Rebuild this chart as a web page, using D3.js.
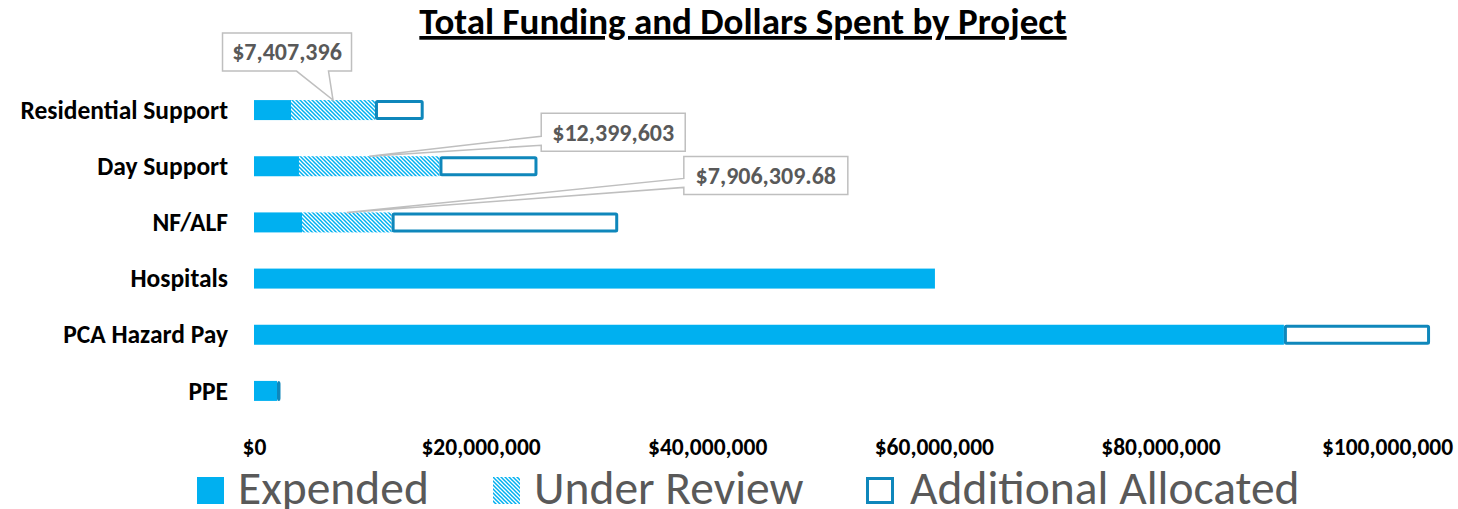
<!DOCTYPE html>
<html>
<head>
<meta charset="utf-8">
<script src="https://cdn.jsdelivr.net/npm/d3@7"></script>
<style>
  body { margin: 0; background: #fff; }
  svg { display: block; font-family: Carlito, Lato, 'Open Sans', sans-serif; }
</style>
</head>
<body>
<svg id="chart" width="1458" height="509"></svg>
<script>
  // data
  const categories = ['Residential Support', 'Day Support', 'NF/ALF', 'Hospitals', 'PCA Hazard Pay', 'PPE'];
  const expended = [3270000, 3970000, 4240000, 60100000, 90900000, 2030000];
  const underReview = [7407396, 12399603, 7906309.68, 0, 0, 0];
  const additional = [4300000, 8650000, 20000000, 0, 12900000, 260000];
  const seriesNames = ['Expended', 'Under Review', 'Additional Allocated'];
  const xTicks = [0, 20000000, 40000000, 60000000, 80000000, 100000000];
  const title = 'Total Funding and Dollars Spent by Project';

  const blue = '#00b0f0';
  const outline = '#0f87bb';
  const font = "Carlito, Lato, 'Open Sans', sans-serif";

  const svg = d3.select('svg#chart');

  const defs = svg.append('defs');
  const pat = defs.append('pattern')
      .attr('id', 'hatch')
      .attr('patternUnits', 'userSpaceOnUse')
      .attr('width', 4).attr('height', 4);
  pat.append('rect').attr('width', 4).attr('height', 4).attr('fill', '#fff');
  pat.append('path')
      .attr('d', 'M-1,-1L5,5M-1,3L1,5M3,-1L5,1')
      .attr('stroke', blue)
      .attr('stroke-width', 1.5);

  const x = d3.scaleLinear()
      .domain([0, 100000000])
      .range([254, 1387]);

  const y = d3.scalePoint()
      .domain(categories)
      .range([82, 419])
      .padding(0.5);

  const barH = 20;

  const rows = categories.map((c, i) => ({
    cat: c,
    exp: expended[i],
    rev: underReview[i],
    add: additional[i]
  }));

  // title
  svg.append('text')
      .attr('x', 743)
      .attr('y', 34)
      .attr('text-anchor', 'middle')
      .attr('font-size', 37)
      .attr('font-weight', 'bold')
      .attr('text-decoration', 'underline')
      .attr('fill', '#000')
      .text(title);

  // category axis
  const yAxisG = svg.append('g')
      .attr('transform', 'translate(228,0)')
      .call(d3.axisLeft(y).tickSize(0).tickPadding(0))
      .attr('font-family', font)
      .attr('font-size', 25.5)
      .attr('font-weight', 'bold');
  yAxisG.select('.domain').remove();
  yAxisG.selectAll('text').attr('fill', '#000');

  // value axis
  const xAxisG = svg.append('g')
      .attr('transform', 'translate(0,435)')
      .call(d3.axisBottom(x).tickValues(xTicks).tickFormat(d3.format('$,')).tickSize(0).tickPadding(3))
      .attr('font-family', font)
      .attr('font-size', 23.5)
      .attr('font-weight', 'bold');
  xAxisG.select('.domain').remove();
  xAxisG.selectAll('text').attr('fill', '#000');

  // bars
  const bars = svg.append('g');

  bars.selectAll('.exp').data(rows).enter().append('rect')
      .attr('class', 'exp')
      .attr('x', x(0))
      .attr('y', d => y(d.cat) - barH / 2)
      .attr('width', d => x(d.exp) - x(0))
      .attr('height', barH)
      .attr('fill', blue);

  bars.selectAll('.rev').data(rows.filter(d => d.rev > 0)).enter().append('rect')
      .attr('class', 'rev')
      .attr('x', d => x(d.exp))
      .attr('y', d => y(d.cat) - barH / 2)
      .attr('width', d => x(d.exp + d.rev) - x(d.exp))
      .attr('height', barH)
      .attr('fill', 'url(#hatch)');

  bars.selectAll('.add').data(rows.filter(d => d.add > 0)).enter().append('rect')
      .attr('class', 'add')
      .attr('x', d => x(d.exp + d.rev) + 1.5)
      .attr('y', d => y(d.cat) - barH / 2 + 1.5)
      .attr('width', d => Math.max(0.5, x(d.exp + d.rev + d.add) - x(d.exp + d.rev) - 3))
      .attr('height', barH - 3)
      .attr('rx', 1)
      .attr('fill', '#fff')
      .attr('stroke', outline)
      .attr('stroke-width', 3);

  // callouts for Under Review values
  const fmt = v => Number.isInteger(v) ? d3.format('$,')(v) : d3.format('$,.2f')(v);
  const callOffsets = [
    { dx: -46, dy: -48, w: 129, side: 'bottom', p0: 74, p1: 106 },
    { dx: 244, dy: -24, w: 144, side: 'left', p0: 23, p1: 32 },
    { dx: 419, dy: -37, w: 164, side: 'left', p0: 22, p1: 31 }
  ];
  const boxH = 38;

  const calls = svg.append('g').selectAll('g')
      .data(rows.filter(d => d.rev > 0))
      .enter().append('g');

  calls.each(function (d, i) {
    const o = callOffsets[i];
    const ax = (x(d.exp) + x(d.exp + d.rev)) / 2;
    const ay = y(d.cat) - barH / 2;
    const cx = ax + o.dx, cy = ay + o.dy;
    const l = cx - o.w / 2, r = cx + o.w / 2, t = cy - boxH / 2, b = cy + boxH / 2;
    let p;
    if (o.side === 'bottom') {
      p = `M${l},${t}H${r}V${b}H${l + o.p1}L${ax},${ay}L${l + o.p0},${b}H${l}Z`;
    } else {
      p = `M${l},${t}H${r}V${b}H${l}V${t + o.p1}L${ax},${ay}L${l},${t + o.p0}Z`;
    }
    const g = d3.select(this);
    g.append('path')
        .attr('d', p)
        .attr('fill', '#fff')
        .attr('stroke', '#bfbfbf')
        .attr('stroke-width', 1.5);
    g.append('text')
        .attr('x', cx)
        .attr('y', cy)
        .attr('dy', '0.35em')
        .attr('text-anchor', 'middle')
        .attr('font-size', 24)
        .attr('font-weight', 'bold')
        .attr('fill', '#595959')
        .text(fmt(d.rev));
  });

  // legend
  const legendX = [197, 493, 866];
  const legend = svg.append('g').selectAll('g')
      .data(seriesNames)
      .enter().append('g')
      .attr('transform', (d, i) => `translate(${legendX[i]},477)`);

  legend.append('rect')
      .attr('x', (d, i) => i === 2 ? 1.5 : 0)
      .attr('y', (d, i) => i === 2 ? 1.5 : 0)
      .attr('width', (d, i) => i === 2 ? 25 : 27)
      .attr('height', (d, i) => i === 2 ? 24 : 27)
      .attr('fill', (d, i) => i === 0 ? blue : i === 1 ? 'url(#hatch)' : '#fff')
      .attr('stroke', (d, i) => i === 2 ? outline : null)
      .attr('stroke-width', 3);

  legend.append('text')
      .attr('x', (d, i) => i === 2 ? 44 : 41)
      .attr('y', 27)
      .attr('font-size', 47.5)
      .attr('fill', '#595959')
      .text(d => d);
</script>
</body>
</html>
